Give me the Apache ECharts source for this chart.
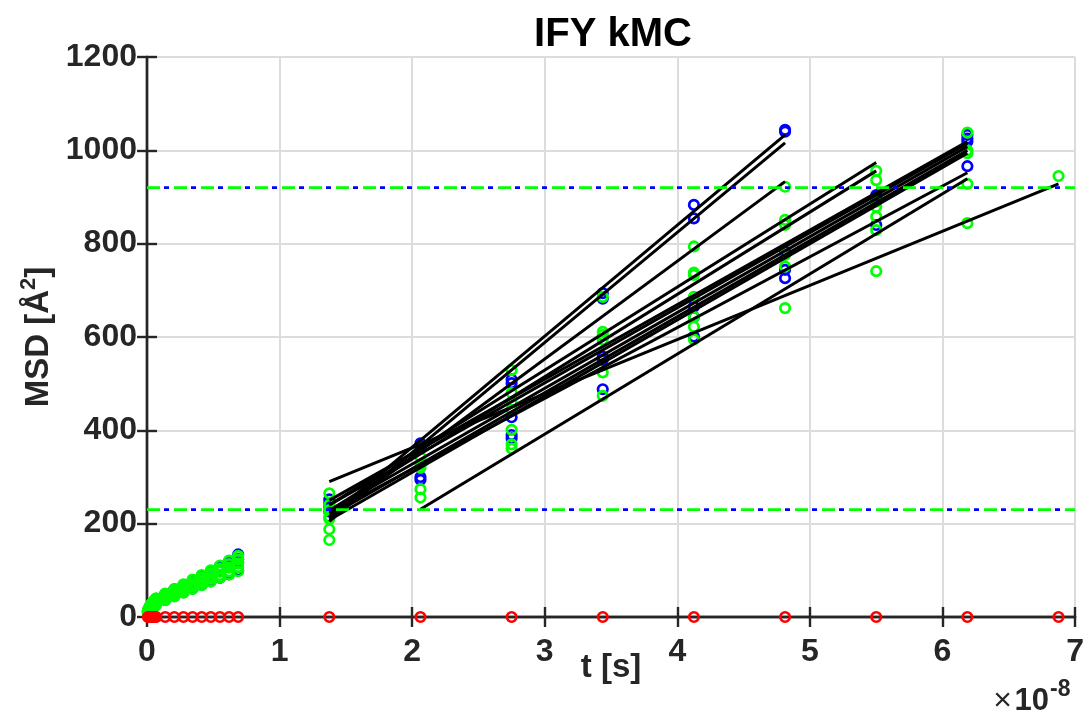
<!DOCTYPE html>
<html>
<head>
<meta charset="utf-8">
<script src="https://cdn.jsdelivr.net/npm/echarts@6/dist/echarts.min.js"></script>
<style>
html,body{margin:0;padding:0;background:#fff;}
#chart{width:1087px;height:718px;}
</style>
</head>
<body>
<div id="chart"></div>
<script>
// ---- data (t in units of 1e-8 s, MSD in Å^2) ----
const tSmall = [0.006875,0.01375,0.020625,0.0275,0.034375,0.04125,0.048125,0.055,0.061875,0.06875,
                0.1375,0.20625,0.275,0.34375,0.4125,0.48125,0.55,0.61875,0.6875];
const blueSmall = [
  [10,13,8,12],[14,17,12,15],[17,21,14,19],[20,24,16,22],[22,27,18,25],
  [25,29,20,27],[27,32,22,29],[29,34,24,31],[31,36,26,33],[33,39,28,35],
  [44,49,37,42],[53,59,45,55],[62,68,53,64],[71,78,61,74],[80,88,69,84],
  [88,98,77,95],[98,108,84,104],[107,119,92,113],[117,134,100,124]
];
const greenSmall = [
  [7,11,15,9,13],[10,15,19,13,17],[13,18,23,16,20],[15,21,26,18,23],[17,23,28,20,25],
  [19,25,31,22,27],[21,27,33,24,30],[23,29,35,26,32],[24,31,37,28,34],[26,33,40,30,36],
  [36,43,50,39,46],[44,52,60,48,56],[52,61,70,56,65],[60,70,80,65,75],[68,79,90,73,84],
  [76,88,100,82,94],[84,97,110,90,103],[91,106,121,98,113],[98,115,131,107,123]
];
const tBig = [1.375,2.0625,2.75,3.4375,4.125,4.8125,5.5,6.1875,6.875];
const blueBig = [
  [252,244,236,226],
  [372,365,300,294],
  [509,501,428,390,383],
  [694,682,558,551,488],
  [883,854,665,643,601],
  [1044,1040,783,744,726],
  [904,896,840],
  [1033,1025,1019,966],
  []
];
const greenBig = [
  [265,240,229,215,210,188,165],
  [361,343,326,320,274,256],
  [529,480,460,444,401,370,361],
  [686,611,604,594,524,474],
  [794,738,733,686,643,622,595],
  [922,851,840,776,751,662],
  [956,936,890,879,858,829,741],
  [1038,1000,994,928,844],
  [945]
];
const tRed = [0.006875,0.01375,0.020625,0.0275,0.034375,0.04125,0.048125,0.055,0.061875,0.06875,
              0.1375,0.20625,0.275,0.34375,0.4125,0.48125,0.55,0.61875,0.6875,
              1.375,2.0625,2.75,3.4375,4.125,4.8125,5.5,6.1875,6.875];
const redMSD = [0,0,0,0,0,0,0,0,0,0, 0,0,0,0,0,0,0,0,0, 0,0,0,0,0,0,0,0,0];
// linear fits: start t, start MSD, end t, end MSD
const fitT0 = [1.375,1.375,1.375,1.375,1.375,1.375,1.375,1.375,1.375,1.375,1.375,2.0625,1.375];
const fitV0 = [215,205,212,240,228,250,240,226,216,208,222,231,290];
const fitT1 = [4.8125,4.8125,4.8125,5.5,5.5,6.1875,6.1875,6.1875,6.1875,6.1875,6.1875,6.1875,6.875];
const fitV1 = [1033,1016,933,974,956,1019,1015,1008,1000,994,952,939,928];
const hLevels = [920,230];
const xTicks = [0,1,2,3,4,5,6,7];
const yTicks = [0,200,400,600,800,1000,1200];

// ---- build ----
function pairs(ts, groups){
  const out=[];
  ts.forEach((t,i)=>groups[i].forEach(v=>out.push([t,v])));
  return out;
}
const blueData = pairs(tSmall, blueSmall).concat(pairs(tBig, blueBig));
const greenData = pairs(tSmall, greenSmall).concat(pairs(tBig, greenBig));
const redData = tRed.map((t,i)=>[t, redMSD[i]]);

const FONT = '"Liberation Sans", Arial, Helvetica, sans-serif';
const AX = '#262626';
const GRIDC = '#dcdcdc';

function circleSeries(name, data, color){
  return {
    name, type:'scatter', data, symbol:'circle', symbolSize:9.5,
    itemStyle:{color:'rgba(0,0,0,0)', borderColor:color, borderWidth:2.7, opacity:1},
    emphasis:{disabled:true}, silent:true, clip:false
  };
}
const series = [
  circleSeries('blue', blueData, '#0000ff'),
  circleSeries('green', greenData, '#00ff00'),
  circleSeries('red', redData, '#ff0000')
];
fitT0.forEach((t0,i)=>{
  series.push({
    type:'line', data:[[t0,fitV0[i]],[fitT1[i],fitV1[i]]], symbol:'none', silent:true,
    lineStyle:{color:'#000', width:3}
  });
});
hLevels.forEach(v=>{
  series.push({
    type:'line', data:[[xTicks[0],v],[xTicks[xTicks.length-1],v]], symbol:'none', silent:true,
    lineStyle:{color:'#0000ff', width:2.8, type:[5,22], dashOffset:10}
  });
  series.push({
    type:'line', data:[[xTicks[0],v],[xTicks[xTicks.length-1],v]], symbol:'none', silent:true,
    lineStyle:{color:'#00ff00', width:2.8, type:[13,14]}
  });
});

const tickStyle = {show:true, inside:true, length:10, lineStyle:{color:AX, width:2.4}};
const lineStyleAx = {show:true, lineStyle:{color:AX, width:2.4}};
const labelStyle = {color:AX, fontSize:32, fontWeight:'bold', fontFamily:FONT};

const option = {
  animation:false,
  backgroundColor:'#fff',
  grid:{left:147, right:8, top:57, bottom:101, containLabel:false},
  xAxis:[
    {type:'value', min:0, max:7, interval:1, position:'bottom',
     axisLine:lineStyleAx, axisTick:tickStyle,
     axisLabel:Object.assign({margin:19, formatter:v=>String(v)}, labelStyle),
     splitLine:{show:true, lineStyle:{color:GRIDC, width:2}},
     name:'t [s]', nameLocation:'middle', nameGap:34, nameMoveOverlap:false,
     nameTextStyle:{color:AX, fontSize:33, fontWeight:'bold', fontFamily:FONT}},
    {type:'value', min:0, max:7, interval:1, position:'top',
     axisLine:lineStyleAx, axisTick:tickStyle, axisLabel:{show:false}, splitLine:{show:false}}
  ],
  yAxis:[
    {type:'value', min:0, max:1200, interval:200, position:'left',
     axisLine:lineStyleAx, axisTick:tickStyle,
     axisLabel:Object.assign({margin:10, formatter:v=>String(v)}, labelStyle),
     splitLine:{show:true, lineStyle:{color:GRIDC, width:2}},
     name:'{a|MSD [Å}{s|2}{a|]}', nameLocation:'middle', nameGap:92, nameRotate:90, nameMoveOverlap:false,
     nameTextStyle:{rich:{
       a:{color:AX, fontSize:33, fontWeight:'bold', fontFamily:FONT, lineHeight:37, verticalAlign:'bottom'},
       s:{color:AX, fontSize:22, fontWeight:'bold', fontFamily:FONT, lineHeight:37, verticalAlign:'top'}
     }}},
    {type:'value', min:0, max:1200, interval:200, position:'right',
     axisLine:lineStyleAx, axisTick:tickStyle, axisLabel:{show:false}, splitLine:{show:false}}
  ],
  graphic:[
    {type:'text', x:613, y:35, silent:true,
     style:{text:'IFY kMC', fill:'#000', fontSize:40, fontWeight:'bold', fontFamily:FONT,
            textAlign:'center', textVerticalAlign:'middle', align:'center', verticalAlign:'middle'}},
    {type:'text', x:1012, y:717, silent:true,
     style:{text:'×', fill:AX, fontSize:32, fontWeight:'normal', fontFamily:FONT,
            textAlign:'right', textVerticalAlign:'bottom', align:'right', verticalAlign:'bottom'}},
    {type:'text', x:1049, y:717, silent:true,
     style:{text:'10', fill:AX, fontSize:31, fontWeight:'bold', fontFamily:FONT,
            textAlign:'right', textVerticalAlign:'bottom', align:'right', verticalAlign:'bottom'}},
    {type:'text', x:1050, y:690, silent:true,
     style:{text:'-8', fill:AX, fontSize:23, fontWeight:'bold', fontFamily:FONT,
            textAlign:'left', textVerticalAlign:'middle', align:'left', verticalAlign:'middle'}}
  ],
  series
};
const chart = echarts.init(document.getElementById('chart'), null, {renderer:'canvas'});
chart.setOption(option);
</script>
</body>
</html>
